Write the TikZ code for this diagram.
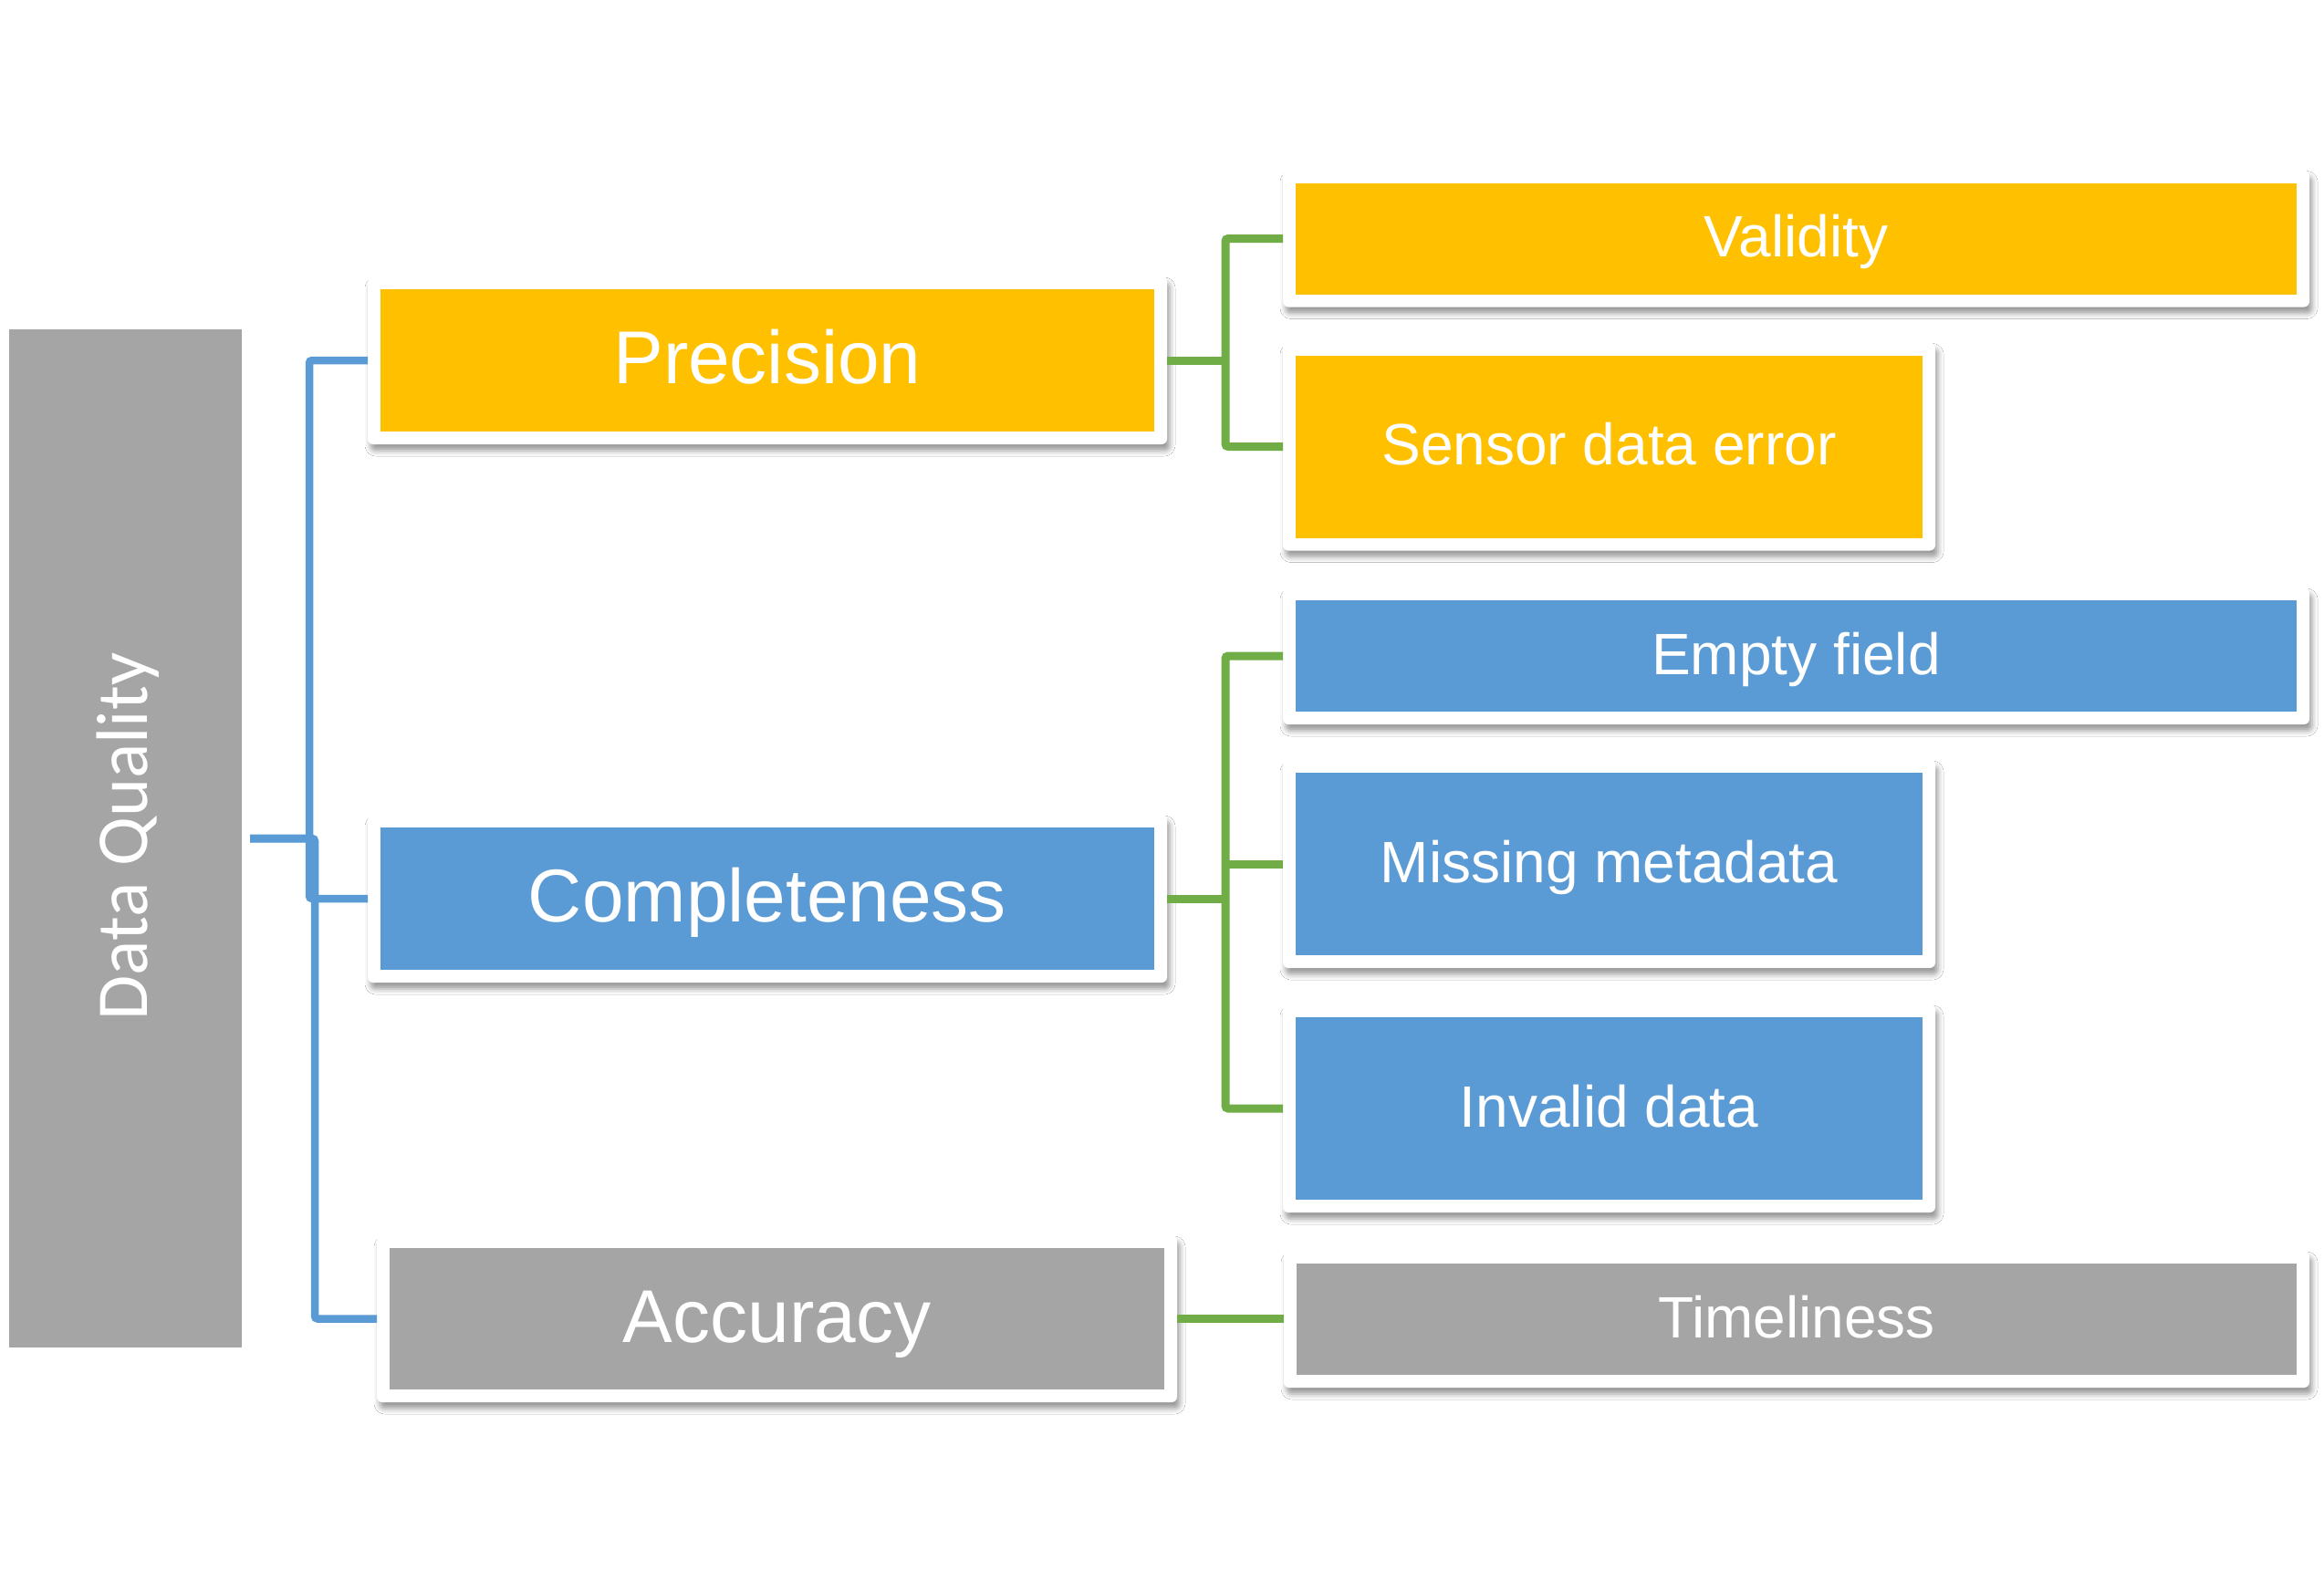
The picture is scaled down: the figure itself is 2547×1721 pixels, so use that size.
\documentclass[tikz,border=0pt]{standalone}
\usepackage{fontspec}
\setmainfont{Liberation Sans}
\newfontfamily\dqfont{Carlito}
\usetikzlibrary{shadows.blur,calc}
\definecolor{cYel}{HTML}{FFC000}
\definecolor{cBlu}{HTML}{5B9BD5}
\definecolor{cGry}{HTML}{A5A5A5}
\definecolor{cGrn}{HTML}{70AD47}
\newcommand\qbox[8]{%
  \node[framebox, minimum width=#4pt+28pt, minimum height=#5pt+28pt] (#1-f) at (#2,#3) {};
  \node[box, fill=#6, #7, minimum width=#4pt, minimum height=#5pt] (#1) at (#2,#3) {#8};}
\begin{document}
\begin{tikzpicture}[x=1pt,y=-1pt,
  box/.style={inner sep=0pt, outer sep=0pt, text=white, align=center},
  bigfont/.style={font=\fontsize{82}{96}\selectfont, text height=73.8pt, text depth=22.5pt},
  smallfont/.style={font=\fontsize{64}{76}\selectfont, text height=57.6pt, text depth=17.6pt},
  framebox/.style={fill=white, rounded corners=6pt, inner sep=0pt, outer sep=0pt,
     blur shadow={shadow xshift=3pt, shadow yshift=-7pt, shadow blur radius=6pt, shadow opacity=40}},
  bline/.style={draw=cBlu, line width=8.5pt, rounded corners=3pt},
  gline/.style={draw=cGrn, line width=9pt, rounded corners=3pt}]
\useasboundingbox (0,0) rectangle (2547,1721);
% dummy shadow outside the page (absorbs the first-fading artefact)
\node[framebox, minimum width=20pt, minimum height=20pt] (dummy) at (-400,-400) {};
\fill[white] (0,0) rectangle (2547,1721);

% root
\node[box, fill=cGry, minimum width=255pt, minimum height=1116pt] (dq) at (137.5,919) {};
\node[rotate=90, text=white, inner sep=0pt, font=\dqfont\fontsize{80}{96}\selectfont] (dqt) at (140,917) {Data Quality};

% level 1
\qbox{prec}{841}{395}{848}{156}{cYel}{bigfont}{Precision}
\qbox{comp}{841}{985}{848}{156}{cBlu}{bigfont}{Completeness}
\qbox{acc}{851.5}{1445.5}{849}{155}{cGry}{bigfont}{Accuracy}

% level 2
\qbox{val}{1968.5}{261.5}{1097}{122}{cYel}{smallfont}{Validity}
\qbox{sen}{1763.5}{489.5}{687}{200}{cYel}{smallfont}{Sensor data error}
\qbox{emp}{1968.5}{719}{1097}{122}{cBlu}{smallfont}{Empty field}
\qbox{mis}{1763.5}{947}{687}{200}{cBlu}{smallfont}{Missing metadata}
\qbox{inv}{1763.5}{1215}{687}{200}{cBlu}{smallfont}{Invalid data}
\qbox{tim}{1969}{1446}{1096}{122}{cGry}{smallfont}{Timeliness}

% blue connectors
\coordinate (dqo) at ($(dq.east)+(9,0)$);
\draw[bline] (dqo) -| ($(prec-f.west)+(-64,0)$) -- (prec-f.west);
\draw[bline] (dqo) -| ($(comp-f.west)+(-64,0)$) -- (comp-f.west);
\draw[bline] (dqo) -| ($(acc-f.west)+(-68,0)$) -- (acc-f.west);

% green connectors
\coordinate (g1) at ($(prec-f.east)+(64,0)$);
\draw[gline] (prec-f.east) -- (g1);
\draw[gline] (val-f.west) -| (g1) |- (sen-f.west);

\coordinate (g2) at ($(comp-f.east)+(64,0)$);
\draw[gline] (comp-f.east) -- (g2);
\draw[gline] (emp-f.west) -| (g2) |- (inv-f.west);
\draw[gline] (g2 |- mis-f.west) -- (mis-f.west);

\draw[gline] (acc-f.east) -- (tim-f.west |- acc-f.east);
\end{tikzpicture}
\end{document}
